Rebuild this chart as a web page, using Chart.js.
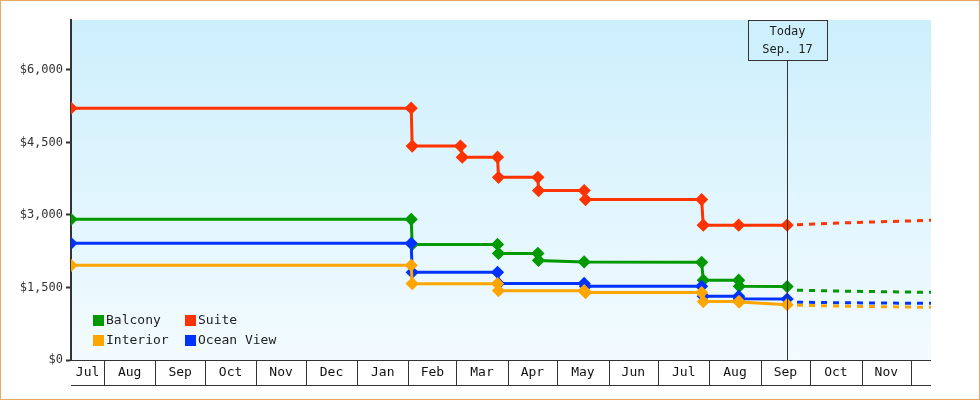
<!DOCTYPE html>
<html><head><meta charset="utf-8">
<script src="https://cdn.jsdelivr.net/npm/chart.js@4/dist/chart.umd.min.js"></script>
<style>
html,body{margin:0;padding:0;background:#fff}
#wrap{width:978px;height:398px;border:1px solid #e8a860;position:relative}
</style></head><body>
<div id="wrap"><canvas id="c"></canvas></div>
<script>
// x values are days counted from Jul 1 (first year)
const monthLabels = ["Jul","Aug","Sep","Oct","Nov","Dec","Jan","Feb","Mar","Apr","May","Jun","Jul","Aug","Sep","Oct","Nov","Dec"];
const monthStarts = [0,31,62,92,123,153,184,215,244,275,305,336,366,397,428,458,489,519,550];
const xMin = 11, xMax = 531, todayDay = 444;
const todayLabel = ["Today","Sep. 17"];
const yTicks = [0,1500,3000,4500,6000];

const suiteX = [11,216.7,217.3,246.5,247.6,268.9,269.5,293.3,293.7,321.3,322.1,392.3,393.3,414.7,444];
const suiteY = [5210,5210,4425,4425,4195,4195,3780,3780,3505,3505,3320,3320,2790,2790,2790];
const balconyX = [11,216.7,217.3,268.9,269.5,293.3,293.7,321.3,392.3,393.3,414.7,415.1,444];
const balconyY = [2910,2910,2390,2390,2205,2205,2060,2030,2020,1650,1650,1525,1520];
const oceanX = [11,216.7,217.3,268.9,269.5,321.3,322.1,392.3,393.3,414.7,415.1,444];
const oceanY = [2415,2415,1815,1815,1585,1585,1525,1525,1320,1320,1265,1262];
const interiorX = [11,216.7,217.3,268.9,269.5,321.3,322.1,392.3,393.3,414.7,415.1,444];
const interiorY = [1960,1960,1580,1580,1435,1435,1395,1395,1210,1210,1200,1145];

const fcX = [450,476,531];
const suiteF = [2800,2835,2890];
const balconyF = [1445,1425,1400];
const oceanF = [1195,1185,1172];
const interiorF = [1135,1115,1090];

const names = ["Balcony","Suite","Interior","Ocean View"];
const colors = {Balcony:"#009900",Suite:"#ff3300",Interior:"#ffa500","Ocean View":"#0033ff"};

const pts = (xs,ys)=>xs.map((x,i)=>({x,y:ys[i]}));
const FONT = "'DejaVu Sans Mono', monospace";

function solid(label,xs,ys){return {label,data:pts(xs,ys),borderColor:colors[label],backgroundColor:colors[label],borderWidth:3,pointStyle:'rectRot',pointRadius:4.5,pointHoverRadius:4.5,tension:0};}
function dashed(label,ys){return {label:label+' forecast',data:pts(fcX,ys),borderColor:colors[label],borderWidth:3,borderDash:[6,6],pointRadius:0,tension:0};}

const datasets=[
  solid("Interior",interiorX,interiorY),
  solid("Ocean View",oceanX,oceanY),
  solid("Balcony",balconyX,balconyY),
  solid("Suite",suiteX,suiteY),
  dashed("Interior",interiorF),dashed("Ocean View",oceanF),dashed("Balcony",balconyF),dashed("Suite",suiteF)
];

const bgPlugin={id:'bg',beforeDraw(ch){const a=ch.chartArea,c=ch.ctx;const g=c.createLinearGradient(0,a.top,0,a.bottom);g.addColorStop(0,'#cceffc');g.addColorStop(1,'#f3fbff');c.save();c.fillStyle=g;c.fillRect(a.left,a.top,a.right-a.left,a.bottom-a.top);c.restore();}};

const decoPlugin={id:'deco',afterDatasetsDraw(ch){
  const c=ch.ctx,a=ch.chartArea,xs=ch.scales.x;
  c.save();
  // month axis
  c.strokeStyle='#333';c.lineWidth=1;
  c.beginPath();c.moveTo(a.left,a.bottom+0.5);c.lineTo(a.right,a.bottom+0.5);c.moveTo(a.left,a.bottom+25.5);c.lineTo(a.right,a.bottom+25.5);c.stroke();
  c.font="13px "+FONT;c.fillStyle='#111';c.textAlign='center';c.textBaseline='middle';
  for(let i=0;i<monthLabels.length;i++){
    const s=Math.max(monthStarts[i],xMin),e=Math.min(monthStarts[i+1],xMax);
    if(e<=s)continue;
    const p0=xs.getPixelForValue(s),p1=xs.getPixelForValue(e);
    if(monthStarts[i]>xMin){c.beginPath();c.moveTo(Math.round(p0)+0.5,a.bottom);c.lineTo(Math.round(p0)+0.5,a.bottom+25);c.stroke();}
    if(p1-p0>28)c.fillText(monthLabels[i],(p0+p1)/2,a.bottom+13);
  }
  // today line and box
  const tx=Math.round(xs.getPixelForValue(todayDay))+0.5;
  c.beginPath();c.moveTo(tx,a.top+40);c.lineTo(tx,a.bottom);c.stroke();
  c.fillStyle='rgba(205,239,252,0.9)';c.fillRect(tx-39,a.top,79,40);
  c.strokeRect(tx-39,a.top+0.5,79,40);
  c.fillStyle='#222';c.font="12px "+FONT;
  c.fillText(todayLabel[0],tx,a.top+12);c.fillText(todayLabel[1],tx,a.top+30);
  // legend
  c.textAlign='left';c.font="13px "+FONT;
  names.forEach((n,i)=>{const col=i%2,row=Math.floor(i/2);const x=a.left+22+col*92,y=a.bottom-40+row*20;
    c.fillStyle=colors[n];c.fillRect(x,y-5,11,11);c.fillStyle='#222';c.fillText(n,x+13,y+1);});
  c.restore();
}};

new Chart(document.getElementById('c'),{
  type:'line',
  data:{datasets},
  options:{
    responsive:true,maintainAspectRatio:false,animation:false,
    layout:{padding:{top:19,right:48,bottom:39,left:0}},
    plugins:{legend:{display:false},tooltip:{enabled:false}},
    scales:{
      x:{type:'linear',min:xMin,max:xMax,display:false},
      y:{min:0,max:7034,afterBuildTicks(s){s.ticks=yTicks.map(v=>({value:v}));},
        afterFit(s){s.width=70;},
        border:{color:'#333',width:2},
        grid:{drawOnChartArea:false,color:'#333',tickLength:5,tickWidth:2},
        ticks:{color:'#333',font:{family:FONT,size:12},padding:3,callback:v=>'$'+v.toLocaleString('en-US')}}
    }
  },
  plugins:[bgPlugin,decoPlugin]
});
</script></body></html>
